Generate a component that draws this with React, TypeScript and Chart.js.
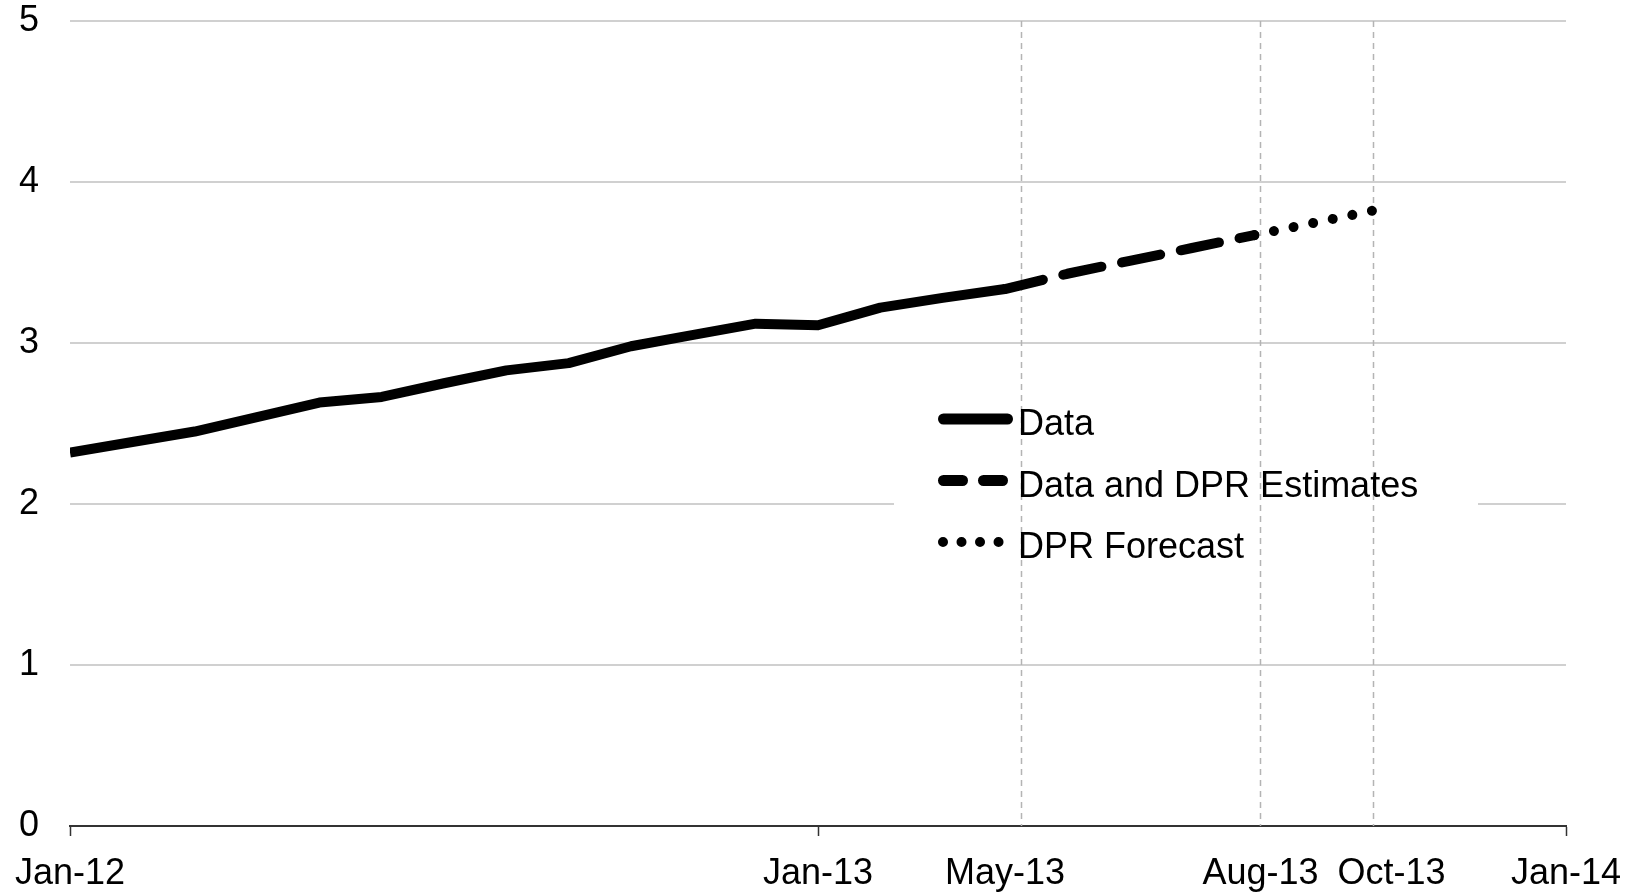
import React, { useEffect, useRef } from "react";
import { Chart, registerables } from "chart.js";

Chart.register(...registerables);

// ---- Data (months since Jan-12) ----
const dataMonths = [0, 1, 2, 3, 4, 5, 6, 7, 8, 9, 10, 11, 12, 13, 14, 15];
const dataValues = [2.32, 2.385, 2.45, 2.54, 2.63, 2.665, 2.75, 2.83, 2.875, 2.98, 3.05, 3.12, 3.11, 3.22, 3.28, 3.335];
const estimateMonths = [15, 16, 17, 18, 19];
const estimateValues = [3.335, 3.43, 3.51, 3.59, 3.67];
const forecastMonths = [19, 20, 21];
const forecastValues = [3.67, 3.75, 3.83];

const seriesLabels = ["Data", "Data and DPR Estimates", "DPR Forecast"];

const xTickMonths = [0, 12, 15, 19.1, 21.2, 24];
const xTickLabels = ["Jan-12", "Jan-13", "May-13", "Aug-13", "Oct-13", "Jan-14"];
const majorTickMonths = [0, 12, 24];
const markerMonths = [15.26, 19.09, 20.9];
const yTicks = [0, 1, 2, 3, 4, 5];

const FONT = "'Liberation Sans', Arial, sans-serif";

// ---- Layout (pixels) ----
const W = 1636;
const H = 892;
const LEG = {
  bgLeft: 894,
  bgTop: 385,
  bgWidth: 584,
  bgHeight: 190,
  sampleLeft: 938,
  sampleRight: 1013,
  textX: 1018,
  firstRowY: 419,
  rowGap: 61.5,
  baselineOffset: 16,
};

const overlayPlugin = {
  id: "overlay",
  beforeDatasetsDraw(chart: any) {
    const { ctx, chartArea, scales } = chart;
    ctx.save();
    ctx.fillStyle = "#ffffff";
    ctx.fillRect(LEG.bgLeft, LEG.bgTop, LEG.bgWidth, LEG.bgHeight);
    ctx.strokeStyle = "#b4b4b4";
    ctx.lineWidth = 1.5;
    ctx.setLineDash([6, 5]);
    markerMonths.forEach((m) => {
      const x = Math.round(scales.x.getPixelForValue(m)) + 0.5;
      ctx.beginPath();
      ctx.moveTo(x, chartArea.top);
      ctx.lineTo(x, chartArea.bottom);
      ctx.stroke();
    });
    ctx.restore();
  },
  afterDatasetsDraw(chart: any) {
    const { ctx } = chart;
    ctx.save();
    seriesLabels.forEach((label, i) => {
      const y = LEG.firstRowY + i * LEG.rowGap;
      ctx.strokeStyle = "#000";
      ctx.lineCap = "round";
      ctx.beginPath();
      if (i === 0) {
        ctx.lineWidth = 11;
        ctx.setLineDash([]);
        ctx.moveTo(LEG.sampleLeft + 5.5, y);
        ctx.lineTo(LEG.sampleRight - 5.5, y);
      } else if (i === 1) {
        ctx.lineWidth = 11;
        ctx.setLineDash([19, 21]);
        ctx.moveTo(LEG.sampleLeft + 5.5, y);
        ctx.lineTo(LEG.sampleRight - 5.5, y);
      } else {
        ctx.lineWidth = 10;
        ctx.setLineDash([0.01, 18.5]);
        ctx.moveTo(LEG.sampleLeft + 5, y);
        ctx.lineTo(LEG.sampleRight - 5, y);
      }
      ctx.stroke();
      ctx.setLineDash([]);
      ctx.fillStyle = "#000";
      ctx.font = `36px ${FONT}`;
      ctx.textAlign = "left";
      ctx.textBaseline = "alphabetic";
      ctx.fillText(label, LEG.textX, y + LEG.baselineOffset);
    });
    ctx.restore();
  },
};

function toPoints(xs: number[], ys: number[]) {
  return xs.map((x, i) => ({ x, y: ys[i] }));
}

export default function App() {
  const canvasRef = useRef<HTMLCanvasElement | null>(null);

  useEffect(() => {
    const canvas = canvasRef.current;
    if (!canvas) return;
    const chart = new Chart(canvas, {
      type: "line",
      data: {
        datasets: [
          {
            label: seriesLabels[0],
            data: toPoints(dataMonths, dataValues),
            borderColor: "#000",
            borderWidth: 10,
            borderCapStyle: "butt",
            borderJoinStyle: "round",
            pointRadius: 0,
            tension: 0,
            fill: false,
          },
          {
            label: seriesLabels[1],
            data: toPoints(estimateMonths, estimateValues),
            borderColor: "#000",
            borderWidth: 10,
            borderCapStyle: "round",
            borderJoinStyle: "round",
            borderDash: [39, 21],
            pointRadius: 0,
            tension: 0,
            fill: false,
          },
          {
            label: seriesLabels[2],
            data: toPoints(forecastMonths, forecastValues),
            borderColor: "#000",
            borderWidth: 10,
            borderCapStyle: "round",
            borderJoinStyle: "round",
            borderDash: [0.01, 20],
            pointRadius: 0,
            tension: 0,
            fill: false,
          },
        ],
      },
      options: {
        responsive: false,
        devicePixelRatio: 1,
        animation: false,
        layout: { padding: { top: 21, right: 70, left: 0, bottom: 0 } },
        plugins: {
          legend: { display: false },
          tooltip: { enabled: false },
        },
        scales: {
          x: {
            type: "linear",
            min: 0,
            max: 24,
            afterBuildTicks: (scale: any) => {
              scale.ticks = xTickMonths.map((v) => ({ value: v }));
            },
            afterFit: (scale: any) => {
              scale.height = 66;
              scale.paddingLeft = 0;
              scale.paddingRight = 0;
            },
            ticks: {
              autoSkip: false,
              maxRotation: 0,
              minRotation: 0,
              padding: 16,
              color: "#000",
              font: { family: FONT, size: 36 },
              callback: (_v: any, i: number) => xTickLabels[i],
            },
            grid: {
              drawOnChartArea: false,
              drawTicks: true,
              tickLength: 10,
              tickWidth: 1.5,
              tickColor: (ctx: any) =>
                ctx.tick && majorTickMonths.includes(ctx.tick.value) ? "#333" : "rgba(0,0,0,0)",
            },
            border: { display: true, color: "#333", width: 2 },
          },
          y: {
            type: "linear",
            min: 0,
            max: 5,
            afterBuildTicks: (scale: any) => {
              scale.ticks = yTicks.map((v) => ({ value: v }));
            },
            afterFit: (scale: any) => {
              scale.width = 70;
              scale.paddingTop = 0;
              scale.paddingBottom = 0;
            },
            ticks: {
              padding: 31,
              color: "#000",
              font: { family: FONT, size: 36, lineHeight: 1 },
            },
            grid: {
              drawTicks: false,
              color: "#d0d0d0",
              lineWidth: 2,
            },
            border: { display: false },
          },
        },
      },
      plugins: [overlayPlugin],
    } as any);
    return () => chart.destroy();
  }, []);

  return (
    <div style={{ position: "absolute", left: 0, top: 0, width: W, height: H, background: "#fff" }}>
      <canvas ref={canvasRef} width={W} height={H} style={{ display: "block" }} />
    </div>
  );
}
